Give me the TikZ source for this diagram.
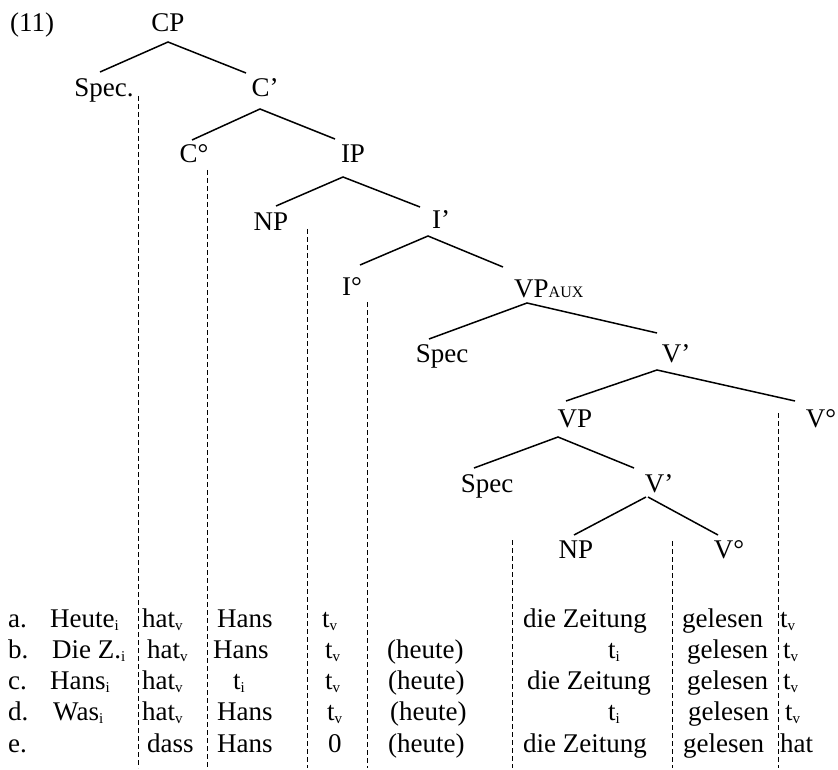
\documentclass[tikz,border=0pt]{standalone}
\usepackage{fontspec}
\setmainfont{Liberation Serif}
\newcommand\lsub[1]{\raisebox{-0.25ex}{\fontsize{15}{15}\selectfont #1}}
\newcommand\capsub[1]{{\fontsize{16}{16}\selectfont #1}}
\begin{document}
\begin{tikzpicture}[x=1pt,y=-1pt,
  every node/.style={inner sep=0pt, font=\fontsize{27}{30}\selectfont},
  lbl/.style={anchor=base},
  cell/.style={anchor=base west},
  branch/.style={line width=1.5pt},
  guide/.style={line width=1pt, dash pattern=on 5pt off 3pt}]
\useasboundingbox (0,0) rectangle (838,770);
% ---------- tree labels ----------
\node[cell] (ex) at (10,32) {(11)};
\node[lbl] (CP) at (168,32) {CP};
\node[lbl] (SpecC) at (104,97) {Spec.};
\node[lbl] (Cbar) at (265,97) {C’};
\node[lbl] (C0) at (194,163) {C°};
\node[lbl] (IP) at (353,163) {IP};
\node[lbl] (NP1) at (271,230) {NP};
\node[lbl] (Ibar) at (441,229) {I’};
\node[lbl] (I0) at (352,295) {I°};
\node[cell] (VPaux) at (514,297) {VP\capsub{AUX}};
\node[lbl] (SpecV) at (442,362) {Spec};
\node[lbl] (Vbar1) at (676,362) {V’};
\node[lbl] (VP) at (575,427) {VP};
\node[lbl] (V0a) at (821,427) {V°};
\node[lbl] (SpecVP) at (487,492) {Spec};
\node[lbl] (Vbar2) at (659,492) {V’};
\node[lbl] (NP2) at (576,558) {NP};
\node[lbl] (V0b) at (729,558) {V°};
% ---------- branch end points ----------
\coordinate (CP-f) at (168,42);
\coordinate (SpecC-t) at (100,72);
\coordinate (Cbar-t) at (246,73);
\coordinate (Cbar-f) at (260,109);
\coordinate (C0-t) at (192,140);
\coordinate (IP-t) at (335,139);
\coordinate (IP-f) at (343,177);
\coordinate (NP1-t) at (276,206);
\coordinate (Ibar-t) at (420,207);
\coordinate (Ibar-f) at (428,236);
\coordinate (I0-t) at (360,265);
\coordinate (VPaux-t) at (503,267);
\coordinate (VPaux-f) at (527,303);
\coordinate (SpecV-t) at (429,339);
\coordinate (Vbar1-t) at (657,333);
\coordinate (Vbar1-f) at (657,370);
\coordinate (VP-t) at (566,401);
\coordinate (V0a-t) at (795,401);
\coordinate (VP-f) at (558,437);
\coordinate (SpecVP-t) at (474,468);
\coordinate (Vbar2-t) at (634,468);
\coordinate (Vbar2-fl) at (646,497);
\coordinate (Vbar2-fr) at (648,497);
\coordinate (NP2-t) at (574,535);
\coordinate (V0b-t) at (718,535);
\draw[branch] (SpecC-t) -- (CP-f) -- (Cbar-t);
\draw[branch] (C0-t) -- (Cbar-f) -- (IP-t);
\draw[branch] (NP1-t) -- (IP-f) -- (Ibar-t);
\draw[branch] (I0-t) -- (Ibar-f) -- (VPaux-t);
\draw[branch] (SpecV-t) -- (VPaux-f) -- (Vbar1-t);
\draw[branch] (VP-t) -- (Vbar1-f) -- (V0a-t);
\draw[branch] (SpecVP-t) -- (VP-f) -- (Vbar2-t);
\draw[branch] (NP2-t) -- (Vbar2-fl);
\draw[branch] (Vbar2-fr) -- (V0b-t);
% ---------- dashed guides ----------
\foreach \n/\x/\y in {1/138/96, 2/207/170, 3/307/229, 4/367/302, 5/512/540, 6/672/541, 7/778/413}{
  \coordinate (g\n-t) at (\x,\y);
  \coordinate (g\n-b) at (\x,768);
  \draw[guide] (g\n-t) -- (g\n-b);
}
% ---------- rows ----------
% row a
\node[cell] (a0) at (8,627) {a.};
\node[cell] (a1) at (50,627) {Heute\lsub{i}};
\node[cell] (a2) at (142,627) {hat\lsub{v}};
\node[cell] (a3) at (217,627) {Hans};
\node[cell] (a4) at (322,627) {t\lsub{v}};
\node[cell] (a6) at (523,627) {die Zeitung};
\node[cell] (a7) at (682,627) {gelesen};
\node[cell] (a8) at (780,627) {t\lsub{v}};
% row b
\node[cell] (b0) at (8,658) {b.};
\node[cell] (b1) at (52,658) {Die Z.\lsub{i}};
\node[cell] (b2) at (147,658) {hat\lsub{v}};
\node[cell] (b3) at (213,658) {Hans};
\node[cell] (b4) at (325,658) {t\lsub{v}};
\node[cell] (b5) at (387,658) {(heute)};
\node[cell] (b6) at (608,658) {t\lsub{i}};
\node[cell] (b7) at (687,658) {gelesen};
\node[cell] (b8) at (783,658) {t\lsub{v}};
% row c
\node[cell] (c0) at (8,689) {c.};
\node[cell] (c1) at (50,689) {Hans\lsub{i}};
\node[cell] (c2) at (142,689) {hat\lsub{v}};
\node[cell] (c3) at (233,689) {t\lsub{i}};
\node[cell] (c4) at (325,689) {t\lsub{v}};
\node[cell] (c5) at (388,689) {(heute)};
\node[cell] (c6) at (527,689) {die Zeitung};
\node[cell] (c7) at (687,689) {gelesen};
\node[cell] (c8) at (783,689) {t\lsub{v}};
% row d
\node[cell] (d0) at (8,720) {d.};
\node[cell] (d1) at (53,720) {Was\lsub{i}};
\node[cell] (d2) at (142,720) {hat\lsub{v}};
\node[cell] (d3) at (217,720) {Hans};
\node[cell] (d4) at (327,720) {t\lsub{v}};
\node[cell] (d5) at (390,720) {(heute)};
\node[cell] (d6) at (608,720) {t\lsub{i}};
\node[cell] (d7) at (688,720) {gelesen};
\node[cell] (d8) at (785,720) {t\lsub{v}};
% row e
\node[cell] (e0) at (8,752) {e.};
\node[cell] (e2) at (147,752) {dass};
\node[cell] (e3) at (217,752) {Hans};
\node[cell] (e4) at (328,752) {0};
\node[cell] (e5) at (388,752) {(heute)};
\node[cell] (e6) at (523,752) {die Zeitung};
\node[cell] (e7) at (683,752) {gelesen};
\node[cell] (e8) at (780,752) {hat};
\end{tikzpicture}
\end{document}
